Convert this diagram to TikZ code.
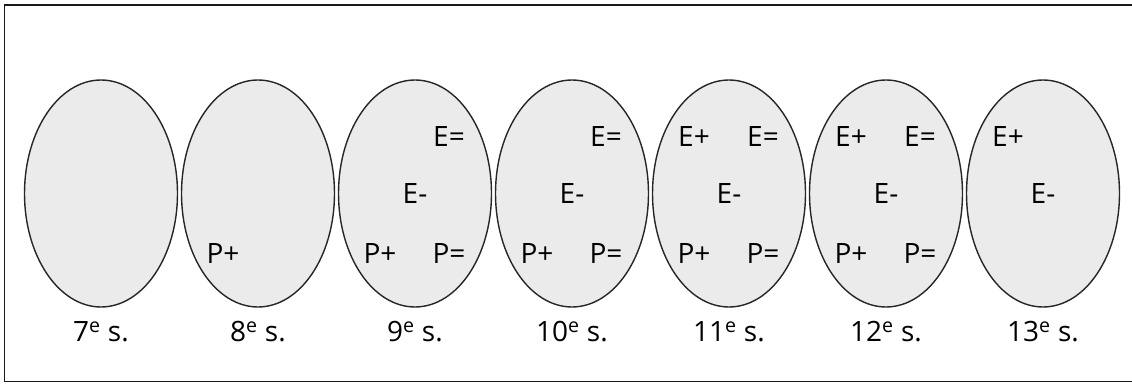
\documentclass[tikz,border=0pt]{standalone}
\usepackage{fontspec}
\setmainfont{Open Sans}
\usetikzlibrary{shapes.geometric,calc}

\tikzset{
  century/.style={ellipse,draw=black!85,line width=1.4pt,fill=black!8,
    minimum width=153,minimum height=227,inner sep=0pt},
  sym/.style={anchor=base,inner sep=0pt,font=\fontsize{28}{34}\selectfont},
  lbl/.style={anchor=base,inner sep=0pt,font=\fontsize{28}{34}\selectfont}
}

\begin{document}
\begin{tikzpicture}[x=1pt,y=1pt]
  \useasboundingbox (0,0) rectangle (1132,383);
  % frame (right side runs off the page)
  \draw[line width=1.5pt,black!90] (1132,378) -- (4.5,378) -- (4.5,1.5) -- (1132,1.5);

  % the seven centuries
  \foreach \n [count=\i from 0] in {7,...,13} {
    \node[century] (c\n) at (101+157*\i,189.5) {};
    \node[lbl] (l\n) at (101+157*\i,41.3) {\n\textsuperscript{e} s.};
    \coordinate (c\n-ep) at ($(c\n)+(-35,46.8)$);
    \coordinate (c\n-eq) at ($(c\n)+(34,46.8)$);
    \coordinate (c\n-em) at ($(c\n)+(0,-10.5)$);
    \coordinate (c\n-pp) at ($(c\n)+(-35,-69.8)$);
    \coordinate (c\n-pq) at ($(c\n)+(34,-69.8)$);
  }

  % 8e s.
  \node[sym] (p8) at (c8-pp) {P+};
  % 9e s.
  \node[sym] (eq9) at (c9-eq) {E=};
  \node[sym] (em9) at (c9-em) {E-};
  \node[sym] (pp9) at (c9-pp) {P+};
  \node[sym] (pq9) at (c9-pq) {P=};
  % 10e s.
  \node[sym] (eq10) at (c10-eq) {E=};
  \node[sym] (em10) at (c10-em) {E-};
  \node[sym] (pp10) at (c10-pp) {P+};
  \node[sym] (pq10) at (c10-pq) {P=};
  % 11e s.
  \node[sym] (ep11) at (c11-ep) {E+};
  \node[sym] (eq11) at (c11-eq) {E=};
  \node[sym] (em11) at (c11-em) {E-};
  \node[sym] (pp11) at (c11-pp) {P+};
  \node[sym] (pq11) at (c11-pq) {P=};
  % 12e s.
  \node[sym] (ep12) at (c12-ep) {E+};
  \node[sym] (eq12) at (c12-eq) {E=};
  \node[sym] (em12) at (c12-em) {E-};
  \node[sym] (pp12) at (c12-pp) {P+};
  \node[sym] (pq12) at (c12-pq) {P=};
  % 13e s.
  \node[sym] (ep13) at (c13-ep) {E+};
  \node[sym] (em13) at (c13-em) {E-};
\end{tikzpicture}
\end{document}
